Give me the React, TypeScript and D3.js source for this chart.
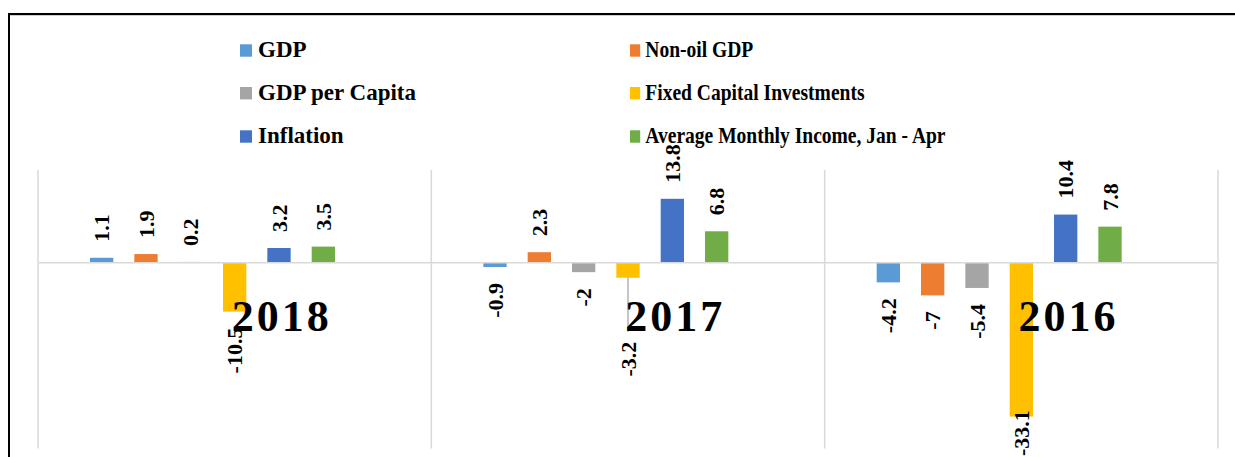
import React from "react";
import * as d3 from "d3";

const YEARS = ["2018", "2017", "2016"];
const SERIES = [
  "GDP",
  "Non-oil GDP",
  "GDP per Capita",
  "Fixed Capital Investments",
  "Inflation",
  "Average Monthly Income, Jan - Apr",
];
const COLORS = ["#5b9bd5", "#ed7d31", "#a5a5a5", "#ffc000", "#4472c4", "#70ad47"];
const GDP = [1.1, -0.9, -4.2];
const NON_OIL_GDP = [1.9, 2.3, -7];
const GDP_PER_CAPITA = [0.2, -2, -5.4];
const FIXED_CAPITAL = [-10.5, -3.2, -33.1];
const INFLATION = [3.2, 13.8, 10.4];
const AVG_INCOME = [3.5, 6.8, 7.8];
const VALUES = [GDP, NON_OIL_GDP, GDP_PER_CAPITA, FIXED_CAPITAL, INFLATION, AVG_INCOME];
const Y_DOMAIN = [-40, 20];
// label manually dragged away from its bar (with leader line)
const MOVED_LABEL = { series: 3, year: 1, extra: 48 };

const FONT = "'Liberation Serif', 'Times New Roman', serif";

export default function App() {
  const W = 1235;
  const H = 457;
  const plotLeft = 38;
  const plotRight = 1218;
  const plotTop = 170;
  const plotBottom = 448.6;
  const chartBottom = 456;

  const x0 = d3.scaleBand<string>().domain(YEARS).range([plotLeft, plotRight]).padding(0);
  const x1 = d3
    .scaleBand<number>()
    .domain(d3.range(SERIES.length))
    .range([52, 297])
    .paddingInner(0.474)
    .paddingOuter(0);
  const y = d3.scaleLinear().domain(Y_DOMAIN).range([plotBottom, plotTop]);
  const y0 = y(0);
  const gap = 16;
  const labelSize = 22;

  const bars: React.ReactNode[] = [];
  const labels: React.ReactNode[] = [];
  YEARS.forEach((yr, yi) => {
    SERIES.forEach((s, si) => {
      const v = VALUES[si][yi];
      const bx = (x0(yr) as number) + (x1(si) as number);
      const bw = x1.bandwidth();
      const top = Math.min(y(v), y0);
      const h = Math.abs(y(v) - y0);
      bars.push(
        <rect key={`b${yi}-${si}`} x={bx} y={top} width={bw} height={h} fill={COLORS[si]} />
      );
      const cx = bx + bw / 2;
      const txt = String(v);
      const estLen = txt.length * labelSize * 0.45;
      let ly: number;
      let anchor: "start" | "end";
      if (v >= 0) {
        ly = y(v) - gap;
        anchor = "start";
      } else {
        ly = y(v) + gap;
        anchor = "end";
        if (MOVED_LABEL.series === si && MOVED_LABEL.year === yi) {
          ly += MOVED_LABEL.extra;
          labels.push(
            <line
              key={`ll${yi}-${si}`}
              x1={cx}
              x2={cx}
              y1={y(v)}
              y2={ly - 10}
              stroke="#a6a6a6"
              strokeWidth={1.3}
            />
          );
        }
        if (ly + estLen > chartBottom) {
          ly = chartBottom;
          anchor = "start";
        }
      }
      labels.push(
        <text
          key={`l${yi}-${si}`}
          transform={`translate(${cx},${ly}) rotate(-90)`}
          textAnchor={anchor}
          dy="0.35em"
          fontFamily={FONT}
          fontWeight="bold"
          fontSize={labelSize}
          fill="#000"
        >
          {txt}
        </text>
      );
    });
  });

  const legendCols = [240, 630];
  const legendScaleX = [1, 0.85];
  const legendRows = [57.3, 100, 143.3];

  return (
    <svg
      width={W}
      height={H}
      style={{ position: "absolute", left: 0, top: 0, background: "#fff" }}
    >
      <rect x={0} y={0} width={W} height={H} fill="#fff" />
      {/* outer border */}
      <line x1={8} x2={W} y1={15.5} y2={15.5} stroke="#cfcfcf" strokeWidth={1} />
      <line x1={9} x2={W} y1={14} y2={14} stroke="#000" strokeWidth={2} />
      <line x1={9} x2={9} y1={13} y2={H} stroke="#000" strokeWidth={2} />

      {/* legend */}
      {SERIES.map((s, i) => {
        const col = i % 2;
        const row = Math.floor(i / 2);
        const lx = legendCols[col];
        const by = legendRows[row];
        return (
          <g key={`lg${i}`} transform={`translate(${lx},${by}) scale(${legendScaleX[col]},1)`}>
            <rect x={0} y={-13} width={12} height={12.4} fill={COLORS[i]} />
            <text
              x={18}
              y={0}
              fontFamily={FONT}
              fontWeight="bold"
              fontSize={23}
              fill="#000"
            >
              {s}
            </text>
          </g>
        );
      })}

      {/* category separators */}
      {[...YEARS.map((yr) => x0(yr) as number), plotRight].map((xx, i) => (
        <line
          key={`sep${i}`}
          x1={xx}
          x2={xx}
          y1={plotTop}
          y2={plotBottom}
          stroke="#d9d9d9"
          strokeWidth={1.5}
        />
      ))}

      {bars}
      <line x1={plotLeft} x2={plotRight} y1={y0} y2={y0} stroke="#d9d9d9" strokeWidth={1.5} />
      {labels}

      {/* year labels */}
      {YEARS.map((yr) => (
        <text
          key={`yr${yr}`}
          x={(x0(yr) as number) + 243.8}
          y={331}
          textAnchor="middle"
          fontFamily={FONT}
          fontWeight="bold"
          fontSize={44}
          letterSpacing={3}
          fill="#000"
        >
          {yr}
        </text>
      ))}
    </svg>
  );
}
